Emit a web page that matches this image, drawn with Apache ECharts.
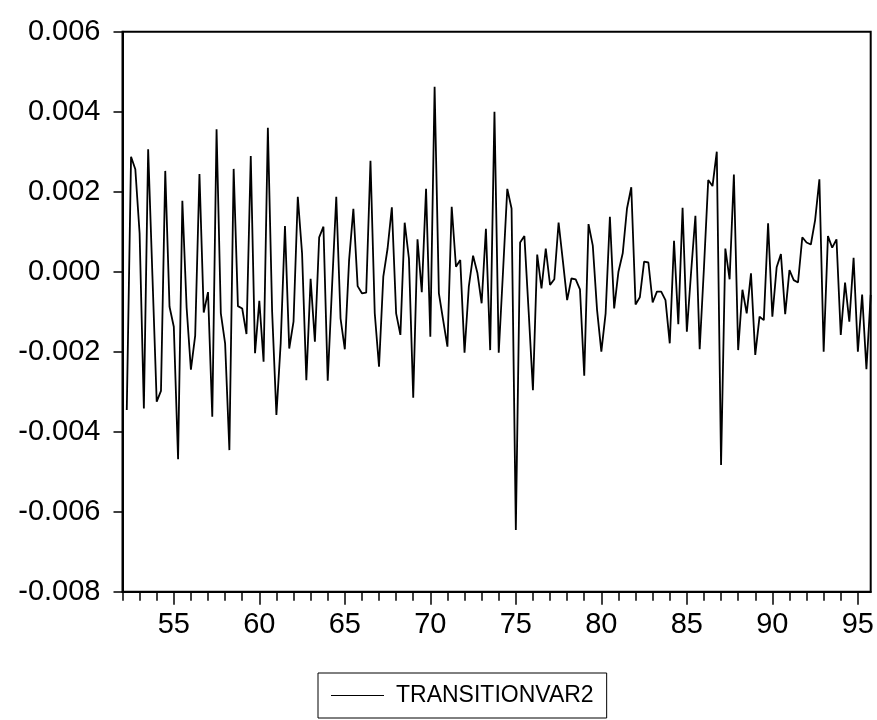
<!DOCTYPE html>
<html>
<head>
<meta charset="utf-8">
<script src="https://cdn.jsdelivr.net/npm/echarts@6/dist/echarts.min.js"></script>
<style>
html,body{margin:0;padding:0;background:#fff;}
#chart{width:877px;height:720px;}
</style>
</head>
<body>
<div id="chart"></div>
<script>
// Quarterly observations 1952Q1 .. 1995Q4 (first quarter has no value)
const startYear = 1952;
const endYear = 1995;
const categories = [];
for (let y = startYear; y <= endYear; y++) {
  for (let q = 1; q <= 4; q++) categories.push(y + 'Q' + q);
}

const seriesName = 'TRANSITIONVAR2';
const transitionVar2 = ['-',
  -0.00346, 0.002875, 0.00256, 0.00096, -0.00342, 0.00306, -0.0001, -0.00325, -0.00298, 0.00252,
  -0.000875, -0.001375, -0.00469, 0.001775, -0.0009, -0.00245, -0.0016, 0.00244, -0.00102, -0.00051,
  -0.003625, 0.00356, -0.00104, -0.00179, -0.00446, 0.00257, -0.00086, -0.00092, -0.00156, 0.00289,
  -0.00204, -0.000725, -0.00225, 0.0036, -0.001, -0.00358, -0.00179, 0.00114, -0.00192, -0.00125,
  0.001875, 0.00046, -0.00271, -0.00018, -0.00175, 0.00086, 0.001125, -0.002725, -0.0004, 0.001875,
  -0.00117, -0.00194, 0.00029, 0.00157, -0.00036, -0.00054, -0.000525, 0.00277, -0.00104, -0.002375,
  -0.000125, 0.00058, 0.00161, -0.00104, -0.00158, 0.001225, 0.00033, -0.00315, 0.00081, -0.00051,
  0.00207, -0.001625, 0.004625, -0.00054, -0.00121, -0.001875, 0.001625, 0.000125, 0.00029, -0.002025,
  -0.000375, 0.0004, -0.000025, -0.00079, 0.00107, -0.00196, 0.004, -0.002025, 0.0, 0.00207,
  0.00158, -0.00646, 0.00073, 0.00089, -0.001, -0.00296, 0.00043, -0.00042, 0.00058, -0.00033,
  -0.00019, 0.00123, 0.00027, -0.00071, -0.00017, -0.00019, -0.00044, -0.0026, 0.00119, 0.00065,
  -0.00096, -0.002, -0.00104, 0.001375, -0.00092, 0.0, 0.00046, 0.00158, 0.00211, -0.00082,
  -0.00064, 0.00025, 0.00023, -0.00077, -0.0005, -0.0005, -0.00071, -0.00179, 0.00077, -0.00131,
  0.0016, -0.0015, 0.0, 0.0014, -0.00194, 0.0001, 0.00229, 0.00214, 0.003, -0.00483,
  0.00058, -0.00019, 0.00243, -0.00196, -0.00045, -0.00104, -0.00004, -0.00208, -0.001125, -0.00121,
  0.00121, -0.001125, 0.00011, 0.00044, -0.00106, 0.00004, -0.00021, -0.00027, 0.00086, 0.00073,
  0.00068, 0.00129, 0.00231, -0.002, 0.00089, 0.0006, 0.00081, -0.00158, -0.00027, -0.00125,
  0.00035, -0.002, -0.00057, -0.00244, -0.00058
];

const majorTickYears = [1955, 1960, 1965, 1970, 1975, 1980, 1985, 1990, 1995];
const majorTickLabels = ['55', '60', '65', '70', '75', '80', '85', '90', '95'];

const yMin = -0.008, yMax = 0.006, yStep = 0.002;

const FONT = '"Liberation Sans", Arial, sans-serif';

function isYearStart(idx) { return categories[idx].endsWith('Q1'); }
function isMajor(idx) {
  const c = categories[idx];
  return c.endsWith('Q1') && majorTickYears.indexOf(parseInt(c.slice(0, 4), 10)) >= 0;
}

const chart = echarts.init(document.getElementById('chart'), null, {renderer: 'canvas'});
chart.setOption({
  animation: false,
  backgroundColor: '#ffffff',
  grid: {
    left: 122.5, right: 5.5, top: 31.7, bottom: 128.3,
    show: true, borderColor: '#000', borderWidth: 2, backgroundColor: 'transparent'
  },
  legend: {
    data: [seriesName],
    left: 318, top: 673,
    padding: [10, 13, 10, 13],
    borderColor: '#000', borderWidth: 1,
    icon: 'rect',
    itemWidth: 53, itemHeight: 1.2,
    itemStyle: {color: '#000'},
    textStyle: {fontFamily: FONT, fontSize: 23, color: '#000', lineHeight: 25, padding: [0, 0, 0, 7]}
  },
  xAxis: [
    {
      type: 'category', data: categories, boundaryGap: false, position: 'bottom',
      axisLine: {show: true, onZero: false, lineStyle: {color: '#000', width: 2}},
      axisTick: {show: true, inside: false, length: 9, interval: (i) => isYearStart(i), lineStyle: {color: '#000', width: 1.5}},
      axisLabel: {show: false},
      splitLine: {show: false}
    },
    {
      type: 'category', data: categories, boundaryGap: false, position: 'bottom',
      axisLine: {show: false, onZero: false},
      axisTick: {show: true, inside: false, length: 13, interval: (i) => isMajor(i), lineStyle: {color: '#000', width: 1.5}},
      axisLabel: {
        show: true, interval: (i) => isMajor(i), margin: 19,
        fontFamily: FONT, fontSize: 29, color: '#000',
        formatter: (v) => majorTickLabels[majorTickYears.indexOf(parseInt(v.slice(0, 4), 10))]
      },
      splitLine: {show: false}
    }
  ],
  yAxis: {
    type: 'value', min: yMin, max: yMax, interval: yStep,
    axisLine: {show: true, onZero: false, lineStyle: {color: '#000', width: 2}},
    axisTick: {show: true, inside: false, length: 9, lineStyle: {color: '#000', width: 1.5}},
    axisLabel: {
      fontFamily: FONT, fontSize: 29, color: '#000', margin: 22,
      formatter: (v) => v.toFixed(3)
    },
    splitLine: {show: false}
  },
  series: [{
    name: seriesName, type: 'line', xAxisIndex: 0,
    data: transitionVar2,
    showSymbol: false, symbol: 'none',
    lineStyle: {color: '#000', width: 1.8},
    itemStyle: {color: '#000'}
  }]
});
</script>
</body>
</html>
